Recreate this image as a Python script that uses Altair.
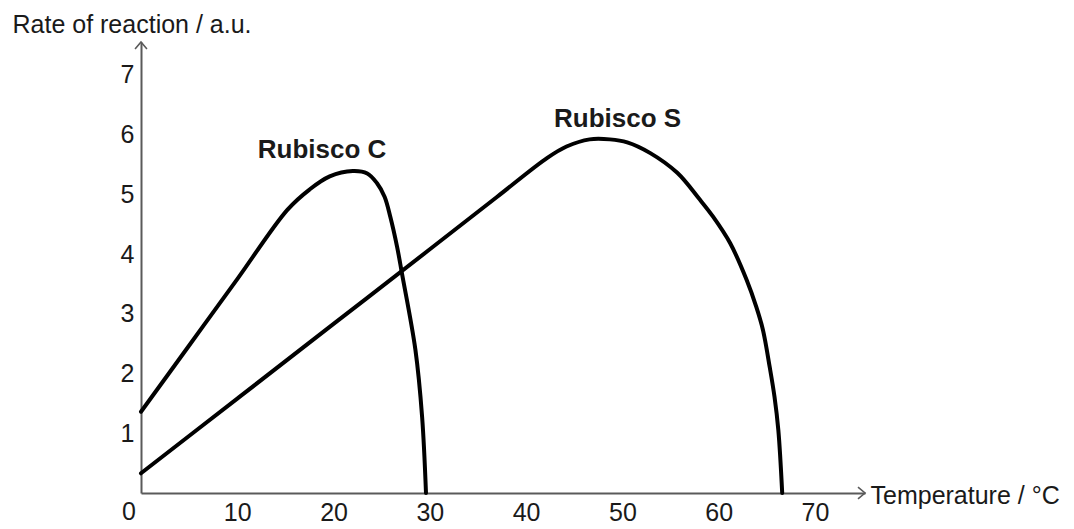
import altair as alt
import pandas as pd

# Data
c_temp = [0, 5, 10, 15.2, 17.5, 19.6, 22.0, 23.5, 24.5, 25.3, 25.9, 26.6, 27.1, 28.5, 29.2, 29.6]
c_rate = [1.36, 2.47, 3.58, 4.74, 5.08, 5.30, 5.39, 5.35, 5.19, 4.96, 4.62, 4.12, 3.68, 2.40, 1.27, 0.0]

s_temp = [0, 10, 20, 30, 37, 42.2, 44.2, 46.6, 48.7, 50.5, 52.9, 55.7, 58.0, 59.4, 61.2, 62.9, 63.9, 64.6, 65.3, 65.8, 66.2, 66.6]
s_rate = [0.33, 1.58, 2.83, 4.08, 4.96, 5.61, 5.80, 5.92, 5.92, 5.87, 5.69, 5.36, 4.92, 4.63, 4.18, 3.57, 3.12, 2.73, 2.11, 1.61, 1.05, 0.0]

label_text = ["Rubisco C", "Rubisco S"]
label_temp = [18.8, 49.5]
label_rate = [5.61, 6.13]

x_ticks = [10, 20, 30, 40, 50, 60, 70]
y_ticks = [1, 2, 3, 4, 5, 6, 7]
origin_label = ["0"]

X_MAX = 75.2
Y_MAX = 7.55

FONT = "Liberation Sans"
TXT = "#1a1a1a"
AXC = "#5a5a5a"

curves = pd.DataFrame(
    {"temp": c_temp + s_temp,
     "rate": c_rate + s_rate,
     "series": ["Rubisco C"] * len(c_temp) + ["Rubisco S"] * len(s_temp)}
)
labels = pd.DataFrame({"text": label_text, "temp": label_temp, "rate": label_rate})
origin = pd.DataFrame({"text": origin_label, "temp": [0], "rate": [0]})

xs = alt.Scale(domain=[0, X_MAX], nice=False, zero=False)
ys = alt.Scale(domain=[0, Y_MAX], nice=False, zero=False)

x_axis = alt.Axis(
    values=x_ticks, format="d", ticks=False, grid=False, domainColor=AXC, domainWidth=2,
    labelFont=FONT, labelFontSize=25, labelColor=TXT, labelPadding=7,
    title="Temperature / °C", titleFont=FONT, titleFontSize=25, titleFontWeight="normal",
    titleColor=TXT, titleAlign="left", titleBaseline="alphabetic",
    titleX=729, titleY=10, titleAnchor="start",
)
y_axis = alt.Axis(
    values=y_ticks, format="d", ticks=False, grid=False, domainColor=AXC, domainWidth=2,
    labelFont=FONT, labelFontSize=25, labelColor=TXT, labelPadding=7,
    title="Rate of reaction / a.u.", titleFont=FONT, titleFontSize=25, titleFontWeight="normal",
    titleColor=TXT, titleAngle=0, titleAlign="left", titleBaseline="alphabetic",
    titleX=-129, titleY=-10, titleAnchor="start",
)

lines = alt.Chart(curves).mark_line(
    interpolate="catmull-rom", color="black", strokeWidth=4, strokeCap="round"
).encode(
    x=alt.X("temp:Q", scale=xs, axis=x_axis),
    y=alt.Y("rate:Q", scale=ys, axis=y_axis),
    detail="series:N",
)

texts = alt.Chart(labels).mark_text(
    font=FONT, fontSize=26, fontWeight="bold", color=TXT, align="center", baseline="alphabetic"
).encode(
    x=alt.X("temp:Q", scale=xs),
    y=alt.Y("rate:Q", scale=ys),
    text="text:N",
)

origin_txt = alt.Chart(origin).mark_text(
    font=FONT, fontSize=25, color=TXT, align="right", baseline="top", dx=-5, dy=7
).encode(
    x=alt.X("temp:Q", scale=xs),
    y=alt.Y("rate:Q", scale=ys),
    text="text:N",
)

arrow_x = alt.Chart(origin).mark_point(
    shape="M-1,-0.85L0,0L-1,0.85", filled=False, stroke=AXC, strokeWidth=1.6, size=196, opacity=1
).encode(x=alt.datum(X_MAX, scale=xs), y=alt.datum(0, scale=ys))

arrow_y = alt.Chart(origin).mark_point(
    shape="M-0.85,1L0,0L0.85,1", filled=False, stroke=AXC, strokeWidth=1.6, size=196, opacity=1
).encode(x=alt.datum(0, scale=xs), y=alt.datum(Y_MAX, scale=ys))

chart = alt.layer(lines, texts, origin_txt, arrow_x, arrow_y).properties(
    width=724, height=451,
    autosize=alt.AutoSizeParams(type="none"),
    padding={"left": 141, "top": 42, "right": 209, "bottom": 36},
    background="white",
).configure_view(stroke=None)

chart.save("out.html", embed_options={"renderer": "svg", "actions": False})
